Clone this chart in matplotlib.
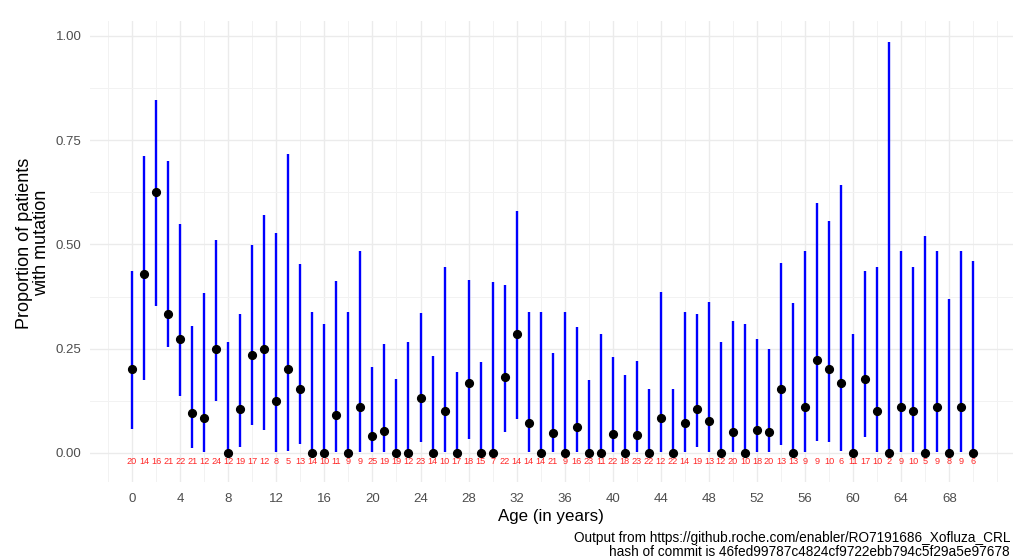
import numpy as np
import matplotlib.pyplot as plt
from matplotlib.ticker import MultipleLocator

plt.rcParams['font.family'] = ['Liberation Sans', 'DejaVu Sans']

# age groups (years) and number of patients per age
ages = list(range(0, 71))
n_patients = [20, 14, 16, 21, 22, 21, 12, 24, 12, 19, 17, 12, 8, 5, 13, 14, 10, 11, 9, 9,
              25, 19, 19, 12, 23, 14, 10, 17, 18, 15, 7, 22, 14, 14, 14, 21, 9, 16, 23, 11,
              22, 18, 23, 22, 12, 22, 14, 19, 13, 12, 20, 10, 18, 20, 13, 13, 9, 9, 10, 6,
              11, 17, 10, 2, 9, 10, 5, 9, 8, 9, 6]
# patients with mutation
n_mutation = [4, 6, 10, 7, 6, 2, 1, 6, 0, 2, 4, 3, 1, 1, 2, 0, 0, 1, 0, 1,
              1, 1, 0, 0, 3, 0, 1, 0, 3, 0, 0, 4, 4, 1, 0, 1, 0, 1, 0, 0,
              1, 0, 1, 0, 1, 0, 1, 2, 1, 0, 1, 0, 1, 1, 2, 0, 1, 2, 2, 1,
              0, 3, 1, 0, 1, 1, 0, 1, 0, 1, 0]
# 95% confidence interval bounds
ci_lower = [0.057, 0.175, 0.353, 0.255, 0.137, 0.012, 0.002, 0.125, 0, 0.013,
            0.067, 0.054, 0.003, 0.005, 0.02, 0, 0, 0.002, 0, 0.003,
            0.001, 0.001, 0, 0, 0.027, 0, 0.003, 0, 0.034, 0,
            0, 0.05, 0.082, 0.002, 0, 0.001, 0, 0.002, 0, 0,
            0.001, 0, 0.001, 0, 0.002, 0, 0.002, 0.013, 0.002, 0,
            0.001, 0, 0.001, 0.001, 0.019, 0, 0.003, 0.028, 0.025, 0.004,
            0, 0.038, 0.003, 0, 0.003, 0.003, 0, 0.003, 0, 0.003, 0]
ci_upper = [0.437, 0.711, 0.847, 0.701, 0.548, 0.305, 0.384, 0.511, 0.265, 0.332,
            0.499, 0.571, 0.527, 0.716, 0.454, 0.338, 0.309, 0.413, 0.337, 0.484,
            0.205, 0.261, 0.177, 0.265, 0.336, 0.233, 0.445, 0.195, 0.414, 0.218,
            0.41, 0.402, 0.581, 0.339, 0.339, 0.239, 0.337, 0.303, 0.174, 0.285,
            0.229, 0.186, 0.22, 0.154, 0.385, 0.154, 0.339, 0.333, 0.361, 0.265,
            0.317, 0.309, 0.273, 0.25, 0.455, 0.36, 0.483, 0.6, 0.556, 0.642,
            0.285, 0.435, 0.445, 0.986, 0.483, 0.445, 0.521, 0.483, 0.37, 0.483, 0.46]

prop = np.array(n_mutation) / np.array(n_patients)

fig = plt.figure(figsize=(10.13, 5.58), dpi=100)
ax = fig.add_axes([90 / 1013, 76 / 558, 923 / 1013, 460.6 / 558])

# gridlines like theme_minimal
ax.xaxis.set_major_locator(MultipleLocator(4))
ax.xaxis.set_minor_locator(MultipleLocator(2))
ax.yaxis.set_major_locator(MultipleLocator(0.25))
ax.yaxis.set_minor_locator(MultipleLocator(0.125))
ax.grid(which='major', color='#EBEBEB', lw=1.0)
ax.grid(which='minor', color='#F2F2F2', lw=0.7)
ax.set_axisbelow(True)
for s in ax.spines.values():
    s.set_visible(False)

ax.vlines(ages, ci_lower, ci_upper, color='#0000FF', lw=1.7, zorder=2)
ax.plot(ages, prop, 'o', color='black', ms=5.6, zorder=3)

for a, n in zip(ages, n_patients):
    ax.text(a, -0.021, str(n), color='#FF2828', fontsize=6.6, ha='center', va='center')

ax.set_xlim(-3.5, 73.3)
ax.set_ylim(-0.07, 1.035)
ax.set_yticks([0, 0.25, 0.5, 0.75, 1.0])
ax.set_yticklabels(['0.00', '0.25', '0.50', '0.75', '1.00'])
ax.set_xticks(range(0, 69, 4))
ax.tick_params(which='both', length=0, labelsize=9.5, labelcolor='#4D4D4D')
ax.tick_params(axis='x', pad=8)
ax.tick_params(axis='y', pad=6)

fig.text(551 / 1013, 1 - 516 / 558, 'Age (in years)', fontsize=12.2, ha='center', va='center')
fig.text(33 / 1013, 1 - 243 / 558, 'Proportion of patients\nwith mutation', fontsize=13,
         ha='center', va='center', rotation=90, linespacing=1.0)

fig.text(1010 / 1013, 1 - 545 / 558,
         'Output from https://github.roche.com/enabler/RO7191686_Xofluza_CRL\n'
         'hash of commit is 46fed99787c4824cf9722ebb794c5f29a5e97678',
         fontsize=9.8, ha='right', va='center', multialignment='right', linespacing=1.0)

plt.savefig('out.png', dpi=100)
